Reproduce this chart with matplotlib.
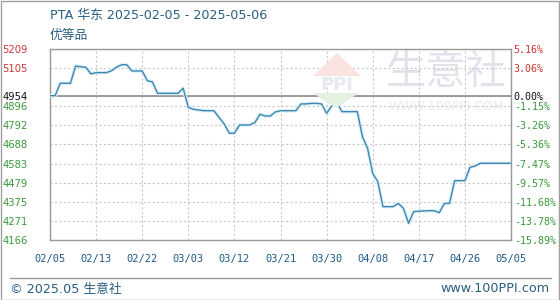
import matplotlib
matplotlib.use("Agg")
import matplotlib.pyplot as plt
from matplotlib.patches import Polygon
import numpy as np

plt.rcParams['font.family'] = ['DejaVu Sans', 'Noto Sans CJK SC']

# daily price, 2025-02-05 .. 2025-05-06 (index = day)
prices = [4954, 4954, 5022, 5022, 5022, 5116, 5112, 5109, 5073, 5080,
          5080, 5080, 5090, 5110, 5123, 5123, 5089, 5089, 5089, 5036,
          5029, 4967, 4967, 4967, 4967, 4967, 4995, 4890, 4880, 4876,
          4872, 4872, 4872, 4835, 4800, 4749, 4749, 4794, 4794, 4794,
          4807, 4853, 4843, 4843, 4865, 4872, 4872, 4872, 4872, 4909,
          4909, 4912, 4912, 4909, 4858, 4898, 4916, 4867, 4867, 4867,
          4867, 4730, 4667, 4530, 4484, 4348, 4348, 4348, 4366, 4339,
          4257, 4321, 4323, 4325, 4326, 4326, 4315, 4366, 4366, 4490,
          4490, 4490, 4563, 4570, 4585, 4585, 4585, 4585, 4585, 4585,
          4585]
base_price = 4954

x_labels = ['02/05', '02/13', '02/22', '03/03', '03/12', '03/21',
            '03/30', '04/08', '04/17', '04/26', '05/05']
y_ticks = [5209, 5105, 4954, 4896, 4792, 4688, 4583, 4479, 4375, 4271, 4166]
pct_labels = ['5.16%', '3.06%', '0.00%', '-1.15%', '-3.26%', '-5.36%',
              '-7.47%', '-9.57%', '-11.68%', '-13.78%', '-15.89%']


def label_color(v):
    if v > base_price:
        return '#cc3333'
    if v == base_price:
        return '#111111'
    return '#3a9a3a'


W, H = 560, 300
fig = plt.figure(figsize=(W / 100, H / 100), dpi=100)

# outer frame
fig.patches.append(plt.Rectangle((0.5 / W, 0.5 / H), 1 - 1.5 / W, 1 - 1.5 / H,
                                 transform=fig.transFigure, fill=False,
                                 edgecolor='#a0a0a0', linewidth=1))

ax = fig.add_axes([50 / W, 60 / H, 461 / W, 191 / H])
x = np.arange(len(prices))

ax.set_xlim(0, len(prices) - 1)
ax.set_ylim(min(y_ticks), max(y_ticks))
ax.set_xticks(np.arange(0, len(prices), 9))
ax.set_xticklabels(x_labels, family='DejaVu Sans Mono', fontsize=7.5, color='#1f5a88')
ax.set_yticks(y_ticks)
ax.set_yticklabels([str(v) for v in y_ticks], fontsize=7.2)
for lbl, v in zip(ax.get_yticklabels(), y_ticks):
    lbl.set_color(label_color(v))
ax.tick_params(axis='both', length=0)
ax.tick_params(axis='y', pad=16)
ax.tick_params(axis='x', pad=10)

ax.grid(True, color='#c8c8c8', linestyle=(0, (2, 2)), linewidth=0.8)
ax.axhline(base_price, color='#8c8c8c', linewidth=1.2)
for s in ax.spines.values():
    s.set_color('#999999')
    s.set_linewidth(1)

ax2 = ax.twinx()
ax2.set_ylim(ax.get_ylim())
ax2.set_yticks(y_ticks)
ax2.set_yticklabels(pct_labels, family='DejaVu Sans Mono', fontsize=7.2)
for lbl, v in zip(ax2.get_yticklabels(), y_ticks):
    lbl.set_color(label_color(v))
ax2.tick_params(axis='y', length=0, pad=2)
for s in ax2.spines.values():
    s.set_visible(False)

# watermark
ax.text(0.86, 0.875, '生意社', transform=ax.transAxes, ha='center', va='center',
        fontsize=29, color='#e0e4ea', family=['Noto Sans CJK SC'], zorder=0)
ax.text(0.86, 0.70, 'WWW.100PPI.COM', transform=ax.transAxes, ha='center', va='center',
        fontsize=9, color='#e8eaee', zorder=0)
fig.patches.append(Polygon([(337 / W, 1 - 53 / H), (361 / W, 1 - 76 / H),
                            (313 / W, 1 - 76 / H)], closed=True,
                           transform=fig.transFigure, facecolor='#fbe3e0',
                           edgecolor='none', zorder=0))
fig.patches.append(Polygon([(313 / W, 1 - 93 / H), (359 / W, 1 - 93 / H),
                            (336 / W, 1 - 108 / H)], closed=True,
                           transform=fig.transFigure, facecolor='#e5f2e2',
                           edgecolor='none', zorder=0))
fig.text(337 / W, 1 - 85 / H, 'PPI', fontsize=13, fontweight='bold',
         color='#e6e9ee', ha='center', va='center', zorder=0)

# price line with halo
ax.plot(x, prices, color='#dcf0fa', linewidth=2.6, solid_joinstyle='round', zorder=3)
ax.plot(x, prices, color='#3f86ae', linewidth=1.0, zorder=4)

# titles
fig.text(50 / W, 1 - 15 / H, 'PTA 华东 2025-02-05 - 2025-05-06', fontsize=9.2,
         color='#2a5f80', va='center', ha='left')
fig.text(50 / W, 1 - 35 / H, '优等品', fontsize=9.2, color='#2a5f80',
         va='center', ha='left', family=['Noto Sans CJK SC'])

# footer
fig.add_artist(plt.Line2D([10 / W, 551 / W], [1 - 277.5 / H, 1 - 277.5 / H],
                          transform=fig.transFigure, color='#999999', linewidth=1))
fig.text(10 / W, 1 - 289 / H, '© 2025.05 生意社', fontsize=9.2, color='#2a5f80',
         va='center', ha='left')
fig.text(550 / W, 1 - 289 / H, 'www.100PPI.com', fontsize=9.2, color='#2a5f80',
         va='center', ha='right')

fig.savefig('out.png', dpi=100)
